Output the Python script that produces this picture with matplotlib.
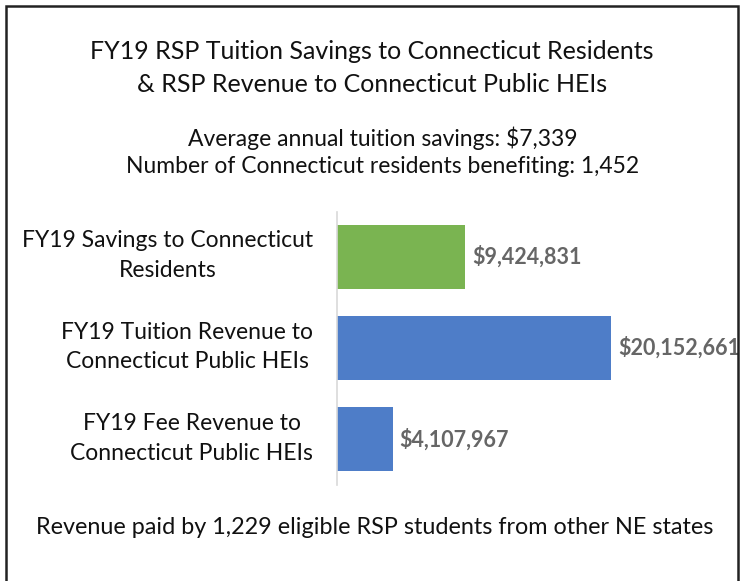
import matplotlib
matplotlib.use("Agg")
import matplotlib.pyplot as plt
from matplotlib.patches import Rectangle
from matplotlib.transforms import offset_copy

# ---- data ----
categories = [
    "FY19 Savings to Connecticut\nResidents",
    "FY19 Tuition Revenue to\nConnecticut Public HEIs",
    "FY19 Fee Revenue to\nConnecticut Public HEIs",
]
values = [9424831, 20152661, 4107967]
bar_colors = ["#7AB451", "#4E7DC8", "#4E7DC8"]

title_lines = "FY19 RSP Tuition Savings to Connecticut Residents\n& RSP Revenue to Connecticut Public HEIs"
subtitle_lines = "Average annual tuition savings: $7,339\nNumber of Connecticut residents benefiting: 1,452"
footer = "Revenue paid by 1,229 eligible RSP students from other NE states"

plt.rcParams['font.family'] = ['Lato', 'DejaVu Sans']

W, H = 744, 581
fig = plt.figure(figsize=(W / 100, H / 100), dpi=100)

# frame around the chart
fig.patches.append(Rectangle((6 / W, -0.05), 732 / W, 1 - 6 / H + 0.05,
                             transform=fig.transFigure, fill=False,
                             edgecolor="#222222", linewidth=1.8))

ax = fig.add_axes([337 / W, 1 - 485 / H, (700 - 337) / W, (485 - 212) / H])
ypos = list(range(len(values)))
ax.barh(ypos, values, height=0.70, color=bar_colors)

ax.set_xlim(0, 26.7e6)
ax.set_ylim(2.5, -0.49)

for y, v in zip(ypos, values):
    ax.text(v + 0.5e6, y, "${:,}".format(v), va="center", ha="left",
            fontsize=15.5, color="#666666", fontweight="bold")

# category labels, right aligned to the axis, lines centred
lbl_tr = offset_copy(ax.get_yaxis_transform(), fig=fig, x=-24, y=1, units="dots")
for y, c in zip(ypos, categories):
    ax.text(0, y, c, transform=lbl_tr, ha="right", va="center",
            multialignment="center", fontsize=16.5, color="#111111",
            linespacing=1.5)

ax.set_yticks([])
ax.set_xticks([])
for s in ["top", "right", "bottom"]:
    ax.spines[s].set_visible(False)
ax.spines["left"].set_color("#D9D9D9")
ax.spines["left"].set_linewidth(1.2)

fig.text(372 / W, 1 - 68 / H, title_lines, ha="center", va="center",
         fontsize=18, color="#111111", linespacing=1.5)
fig.text(383 / W, 1 - 152 / H, subtitle_lines, ha="center", va="center",
         fontsize=16.5, color="#111111", linespacing=1.37)
fig.text(375 / W, 1 - 528 / H, footer, ha="center", va="center",
         fontsize=16.8, color="#111111")

fig.savefig("out.png", dpi=100)
